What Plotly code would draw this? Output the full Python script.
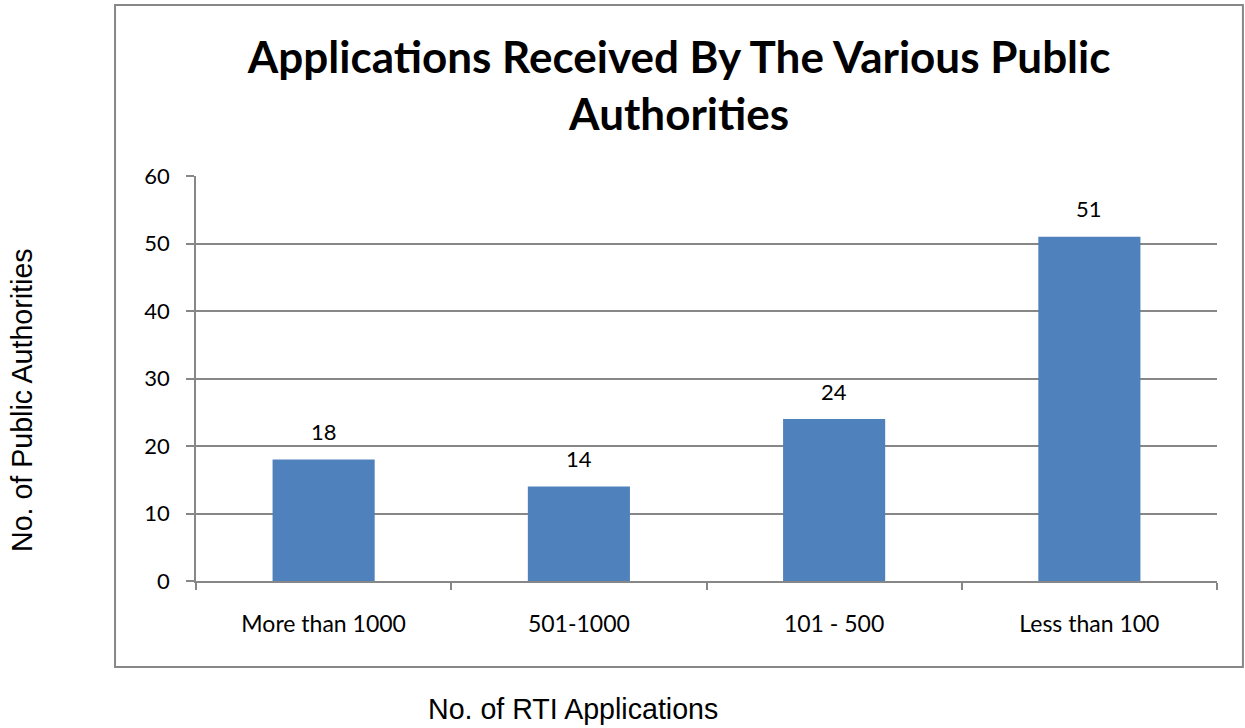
import plotly.graph_objects as go

categories = ["More than 1000", "501-1000", "101 - 500", "Less than 100"]
values = [18, 14, 24, 51]
y_ticks = [0, 10, 20, 30, 40, 50, 60]

title_text = "Applications Received By The Various Public<br>Authorities"
x_title = "No. of RTI Applications"
y_title = "No. of Public Authorities"

BAR = "#4F81BD"
GRID = "#878787"
FONT = "Lato, 'Open Sans', sans-serif"
AFONT = "'Liberation Sans', Arial, sans-serif"

fig = go.Figure()
fig.add_trace(go.Bar(x=categories, y=values, marker=dict(color=BAR, line=dict(width=0)),
                     hoverinfo="skip"))

for c, v in zip(categories, values):
    fig.add_annotation(x=c, y=v, text=str(v), showarrow=False, yshift=28,
                       font=dict(family=FONT, size=22, color="#000000"))

fig.add_annotation(xref="paper", yref="paper", x=0.369, y=-0.316, text=x_title,
                   showarrow=False, yanchor="middle", xanchor="center",
                   font=dict(family=AFONT, size=28.6, color="#000000"))
fig.add_annotation(xref="paper", yref="paper", x=-0.1704, y=0.447, text=y_title,
                   showarrow=False, textangle=-90, yanchor="middle", xanchor="center",
                   font=dict(family=AFONT, size=28.6, color="#000000"))

fig.add_shape(type="rect", xref="paper", yref="paper", x0=-0.0793, x1=1.0254, y0=-0.2123, y1=1.4222,
              line=dict(color=GRID, width=2), fillcolor="rgba(0,0,0,0)", layer="below")

fig.update_layout(
    width=1245, height=728,
    margin=dict(l=196, r=28, t=176, b=147),
    paper_bgcolor="white", plot_bgcolor="white",
    bargap=0.6, showlegend=False,
    title=dict(text=title_text, x=0.5455, xanchor="center", y=1 - 73 / 728, yanchor="top",
               font=dict(family=FONT, size=44, color="#000000", weight="bold")),
    xaxis=dict(type="category", showline=True, linecolor=GRID, linewidth=1.5,
               ticks="outside", tickson="boundaries", ticklen=7, tickcolor=GRID, tickwidth=1.5,
               ticklabelstandoff=22,
               tickfont=dict(family=FONT, size=23, color="#000000"), showgrid=False),
    yaxis=dict(range=[0, 60], tickvals=y_ticks, showline=True, linecolor=GRID, linewidth=1.5,
               ticks="outside", ticklen=8, tickcolor=GRID, tickwidth=1.5,
               ticklabelstandoff=12,
               showgrid=True, gridcolor=GRID, gridwidth=1.5, zeroline=False,
               tickfont=dict(family=FONT, size=22, color="#000000")),
)

fig.write_html("out.html", config={"displayModeBar": False},
               post_script="document.body.style.margin='0';document.body.style.overflow='hidden';")
